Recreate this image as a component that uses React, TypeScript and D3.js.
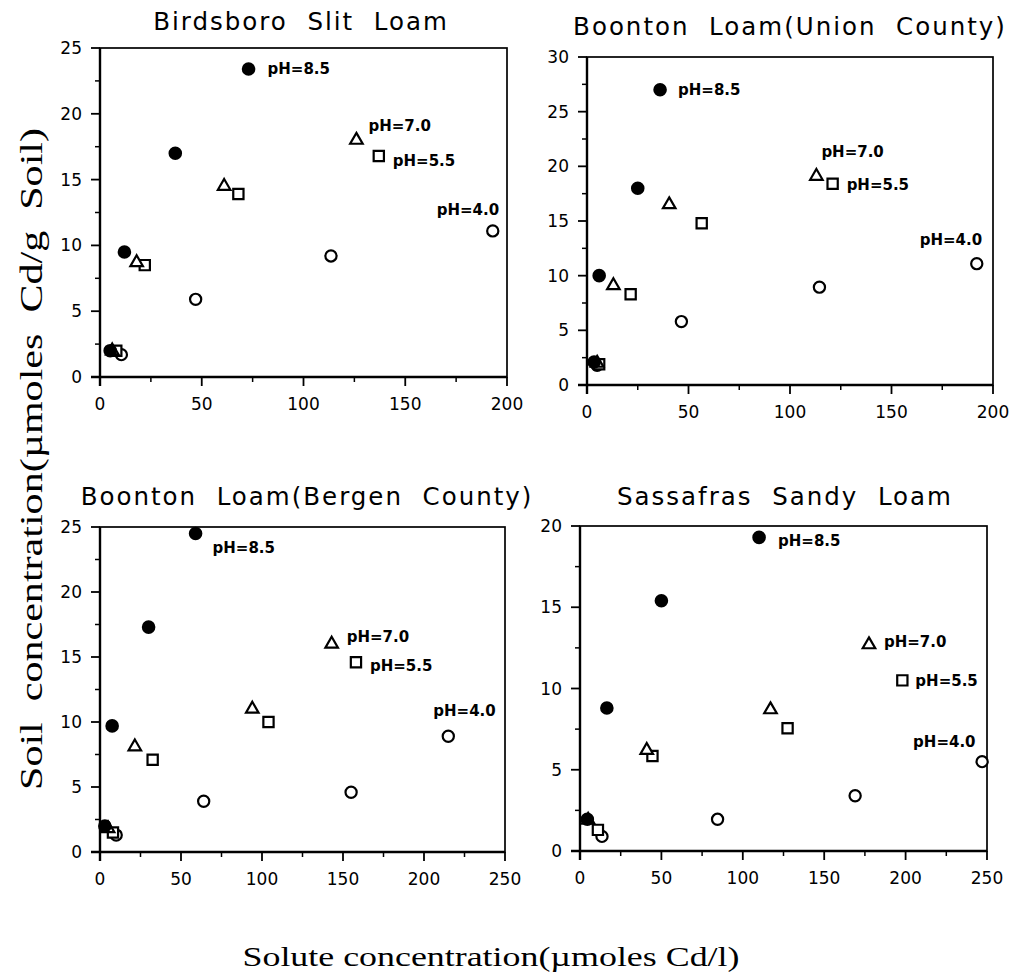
import React from "react";
import * as d3 from "d3";

// Cd sorption isotherms, four soils, four pH levels (x: solute µmol/l, y: soil µmol/g)
const birdsboroPH85 = [[5, 2.0], [12, 9.5], [37, 17.0], [73, 23.4]];
const birdsboroPH70 = [[6, 2.0], [18, 8.7], [61, 14.5], [126, 18.0]];
const birdsboroPH55 = [[8, 2.0], [22, 8.5], [68, 13.9], [137, 16.8]];
const birdsboroPH40 = [[10.5, 1.7], [47, 5.9], [113.5, 9.2], [193, 11.1]];

const unionPH85 = [[3.5, 2.1], [6, 10], [25, 18], [36, 27]];
const unionPH70 = [[5, 2.0], [13, 9.1], [40.5, 16.5], [113, 19.1]];
const unionPH55 = [[6, 1.9], [21.5, 8.3], [56.5, 14.8], [121, 18.4]];
const unionPH40 = [[5, 1.8], [46.5, 5.8], [114.5, 8.95], [192, 11.1]];

const bergenPH85 = [[3, 2.0], [7.5, 9.7], [30, 17.3], [59, 24.5]];
const bergenPH70 = [[5, 1.8], [21.5, 8.1], [94, 11], [143, 16]];
const bergenPH55 = [[8, 1.5], [32.5, 7.1], [104, 10], [158, 14.6]];
const bergenPH40 = [[10, 1.3], [64, 3.9], [155, 4.6], [215, 8.9]];

const sassafrasPH85 = [[4.5, 1.95], [16.5, 8.8], [50, 15.4], [110, 19.3]];
const sassafrasPH70 = [[5, 1.9], [41, 6.2], [117, 8.7], [177.5, 12.7]];
const sassafrasPH55 = [[11, 1.3], [44.5, 5.85], [127.5, 7.55], [198, 10.5]];
const sassafrasPH40 = [[13.5, 0.9], [84.5, 1.95], [169, 3.4], [247, 5.5]];

const phLabels = ["pH=8.5", "pH=7.0", "pH=5.5", "pH=4.0"];
const xTicks200 = [0, 50, 100, 150, 200];
const xTicks250 = [0, 50, 100, 150, 200, 250];
const yTicks25 = [0, 5, 10, 15, 20, 25];
const yTicks30 = [0, 5, 10, 15, 20, 25, 30];
const yTicks20 = [0, 5, 10, 15, 20];

type Pt = number[];
type Panel = {
  title: string;
  series: Pt[][];
  xTicks: number[];
  yTicks: number[];
  left: number;
  right: number;
  top: number;
  bottom: number;
  titleX: number;
  titleY: number;
  labelOff: number[][];
};

const panels: Panel[] = [
  {
    title: "Birdsboro  Slit  Loam",
    series: [birdsboroPH85, birdsboroPH70, birdsboroPH55, birdsboroPH40],
    xTicks: xTicks200, yTicks: yTicks25,
    left: 100, right: 507, top: 48, bottom: 377, titleX: 301, titleY: 30,
    labelOff: [[19, 5], [12, -9], [14, 10], [-56, -16]],
  },
  {
    title: "Boonton  Loam(Union  County)",
    series: [unionPH85, unionPH70, unionPH55, unionPH40],
    xTicks: xTicks200, yTicks: yTicks30,
    left: 587, right: 993, top: 57, bottom: 385, titleX: 790, titleY: 35,
    labelOff: [[18, 5], [5, -19], [14, 6], [-57, -19]],
  },
  {
    title: "Boonton  Loam(Bergen  County)",
    series: [bergenPH85, bergenPH70, bergenPH55, bergenPH40],
    xTicks: xTicks250, yTicks: yTicks25,
    left: 100, right: 505, top: 527, bottom: 852, titleX: 307, titleY: 505,
    labelOff: [[17, 19], [15, -2], [14, 9], [-15, -20]],
  },
  {
    title: "Sassafras  Sandy  Loam",
    series: [sassafrasPH85, sassafrasPH70, sassafrasPH55, sassafrasPH40],
    xTicks: xTicks250, yTicks: yTicks20,
    left: 580, right: 987, top: 526, bottom: 851, titleX: 785, titleY: 505,
    labelOff: [[19, 9], [15, 2], [13, 6], [-69, -15]],
  },
];

const sans = "'DejaVu Sans', Verdana, sans-serif";
const serif = "'Liberation Serif', 'Times New Roman', serif";

const filledCircle = d3.symbol().type(d3.symbolCircle).size(Math.PI * 6.8 * 6.8)();
const openCircle = d3.symbol().type(d3.symbolCircle).size(Math.PI * 5.6 * 5.6)();
const openSquare = d3.symbol().type(d3.symbolSquare).size(105)();
const openTriangle = d3.symbol().type(d3.symbolTriangle).size(68)();

const markers = [
  { d: filledCircle, fill: "#000", stroke: "none" },
  { d: openTriangle, fill: "#fff", stroke: "#000" },
  { d: openSquare, fill: "#fff", stroke: "#000" },
  { d: openCircle, fill: "#fff", stroke: "#000" },
];
// drawing order: open circles first, filled last (filled sit on top)
const drawOrder = [3, 2, 1, 0];

const PanelChart = ({ p }: { p: Panel }) => {
  const xMax = p.xTicks[p.xTicks.length - 1];
  const yMax = p.yTicks[p.yTicks.length - 1];
  const x = d3.scaleLinear().domain([0, xMax]).range([p.left, p.right]);
  const y = d3.scaleLinear().domain([0, yMax]).range([p.bottom, p.top]);
  const xStep = p.xTicks[1] - p.xTicks[0];
  const yStep = p.yTicks[1] - p.yTicks[0];
  const xMinor = d3.range(xStep / 2, xMax, xStep);
  const yMinor = d3.range(yStep / 2, yMax, yStep);

  return (
    <g>
      <text
        x={p.titleX}
        y={p.titleY}
        textAnchor="middle"
        fontFamily={sans}
        fontSize={24.5}
        letterSpacing={2}
        style={{ whiteSpace: "pre" }}
      >
        {p.title}
      </text>
      {/* frame */}
      <rect
        x={p.left}
        y={p.top}
        width={p.right - p.left}
        height={p.bottom - p.top}
        fill="none"
        stroke="#000"
        strokeWidth={1.7}
      />
      <line x1={p.left} x2={p.left} y1={p.top} y2={p.bottom + 9} stroke="#000" strokeWidth={2.4} />
      <line x1={p.left - 9} x2={p.right} y1={p.bottom} y2={p.bottom} stroke="#000" strokeWidth={2.4} />

      {/* y axis */}
      {p.yTicks.map((t) => (
        <g key={"y" + t}>
          <line x1={p.left - 9} x2={p.left} y1={y(t)} y2={y(t)} stroke="#000" strokeWidth={1.8} />
          <text
            x={p.left - 18}
            y={y(t) + 6}
            textAnchor="end"
            fontFamily={sans}
            fontSize={17}
          >
            {t}
          </text>
        </g>
      ))}
      {yMinor.map((t) => (
        <line key={"ym" + t} x1={p.left - 5} x2={p.left + 1} y1={y(t)} y2={y(t)} stroke="#000" strokeWidth={1.5} />
      ))}

      {/* x axis */}
      {p.xTicks.map((t) => (
        <g key={"x" + t}>
          <line x1={x(t)} x2={x(t)} y1={p.bottom} y2={p.bottom + 9} stroke="#000" strokeWidth={1.8} />
          <text
            x={x(t)}
            y={p.bottom + 33}
            textAnchor="middle"
            fontFamily={sans}
            fontSize={17}
          >
            {t}
          </text>
        </g>
      ))}
      {xMinor.map((t) => (
        <line key={"xm" + t} x1={x(t)} x2={x(t)} y1={p.bottom - 1} y2={p.bottom + 5} stroke="#000" strokeWidth={1.5} />
      ))}

      {/* points */}
      {drawOrder.map((si) =>
        p.series[si].map((pt, i) => (
          <path
            key={si + "-" + i}
            d={markers[si].d as string}
            transform={`translate(${x(pt[0])},${y(pt[1])})`}
            fill={markers[si].fill}
            stroke={markers[si].stroke}
            strokeWidth={2.2}
          />
        ))
      )}

      {/* pH labels beside the highest point of each series */}
      {p.series.map((s, si) => {
        const last = s[s.length - 1];
        return (
          <text
            key={"lab" + si}
            x={x(last[0]) + p.labelOff[si][0]}
            y={y(last[1]) + p.labelOff[si][1]}
            fontFamily={sans}
            fontWeight="bold"
            fontSize={15}
          >
            {phLabels[si]}
          </text>
        );
      })}
    </g>
  );
};

const App = () => {
  return (
    <svg
      width={1013}
      height={976}
      style={{ position: "absolute", left: 0, top: 0, background: "#fff" }}
    >
      {panels.map((p) => (
        <PanelChart key={p.title} p={p} />
      ))}
      <text
        transform="translate(42,459) rotate(-90)"
        textAnchor="middle"
        fontFamily={serif}
        fontSize={32}
        textLength={662}
        lengthAdjust="spacingAndGlyphs"
        style={{ whiteSpace: "pre" }}
      >
        {"Soil  concentration(µmoles  Cd/g  Soil)"}
      </text>
      <text
        x={491}
        y={966}
        textAnchor="middle"
        fontFamily={serif}
        fontSize={28}
        textLength={497}
        lengthAdjust="spacingAndGlyphs"
      >
        Solute concentration(µmoles Cd/l)
      </text>
    </svg>
  );
};

export default App;
